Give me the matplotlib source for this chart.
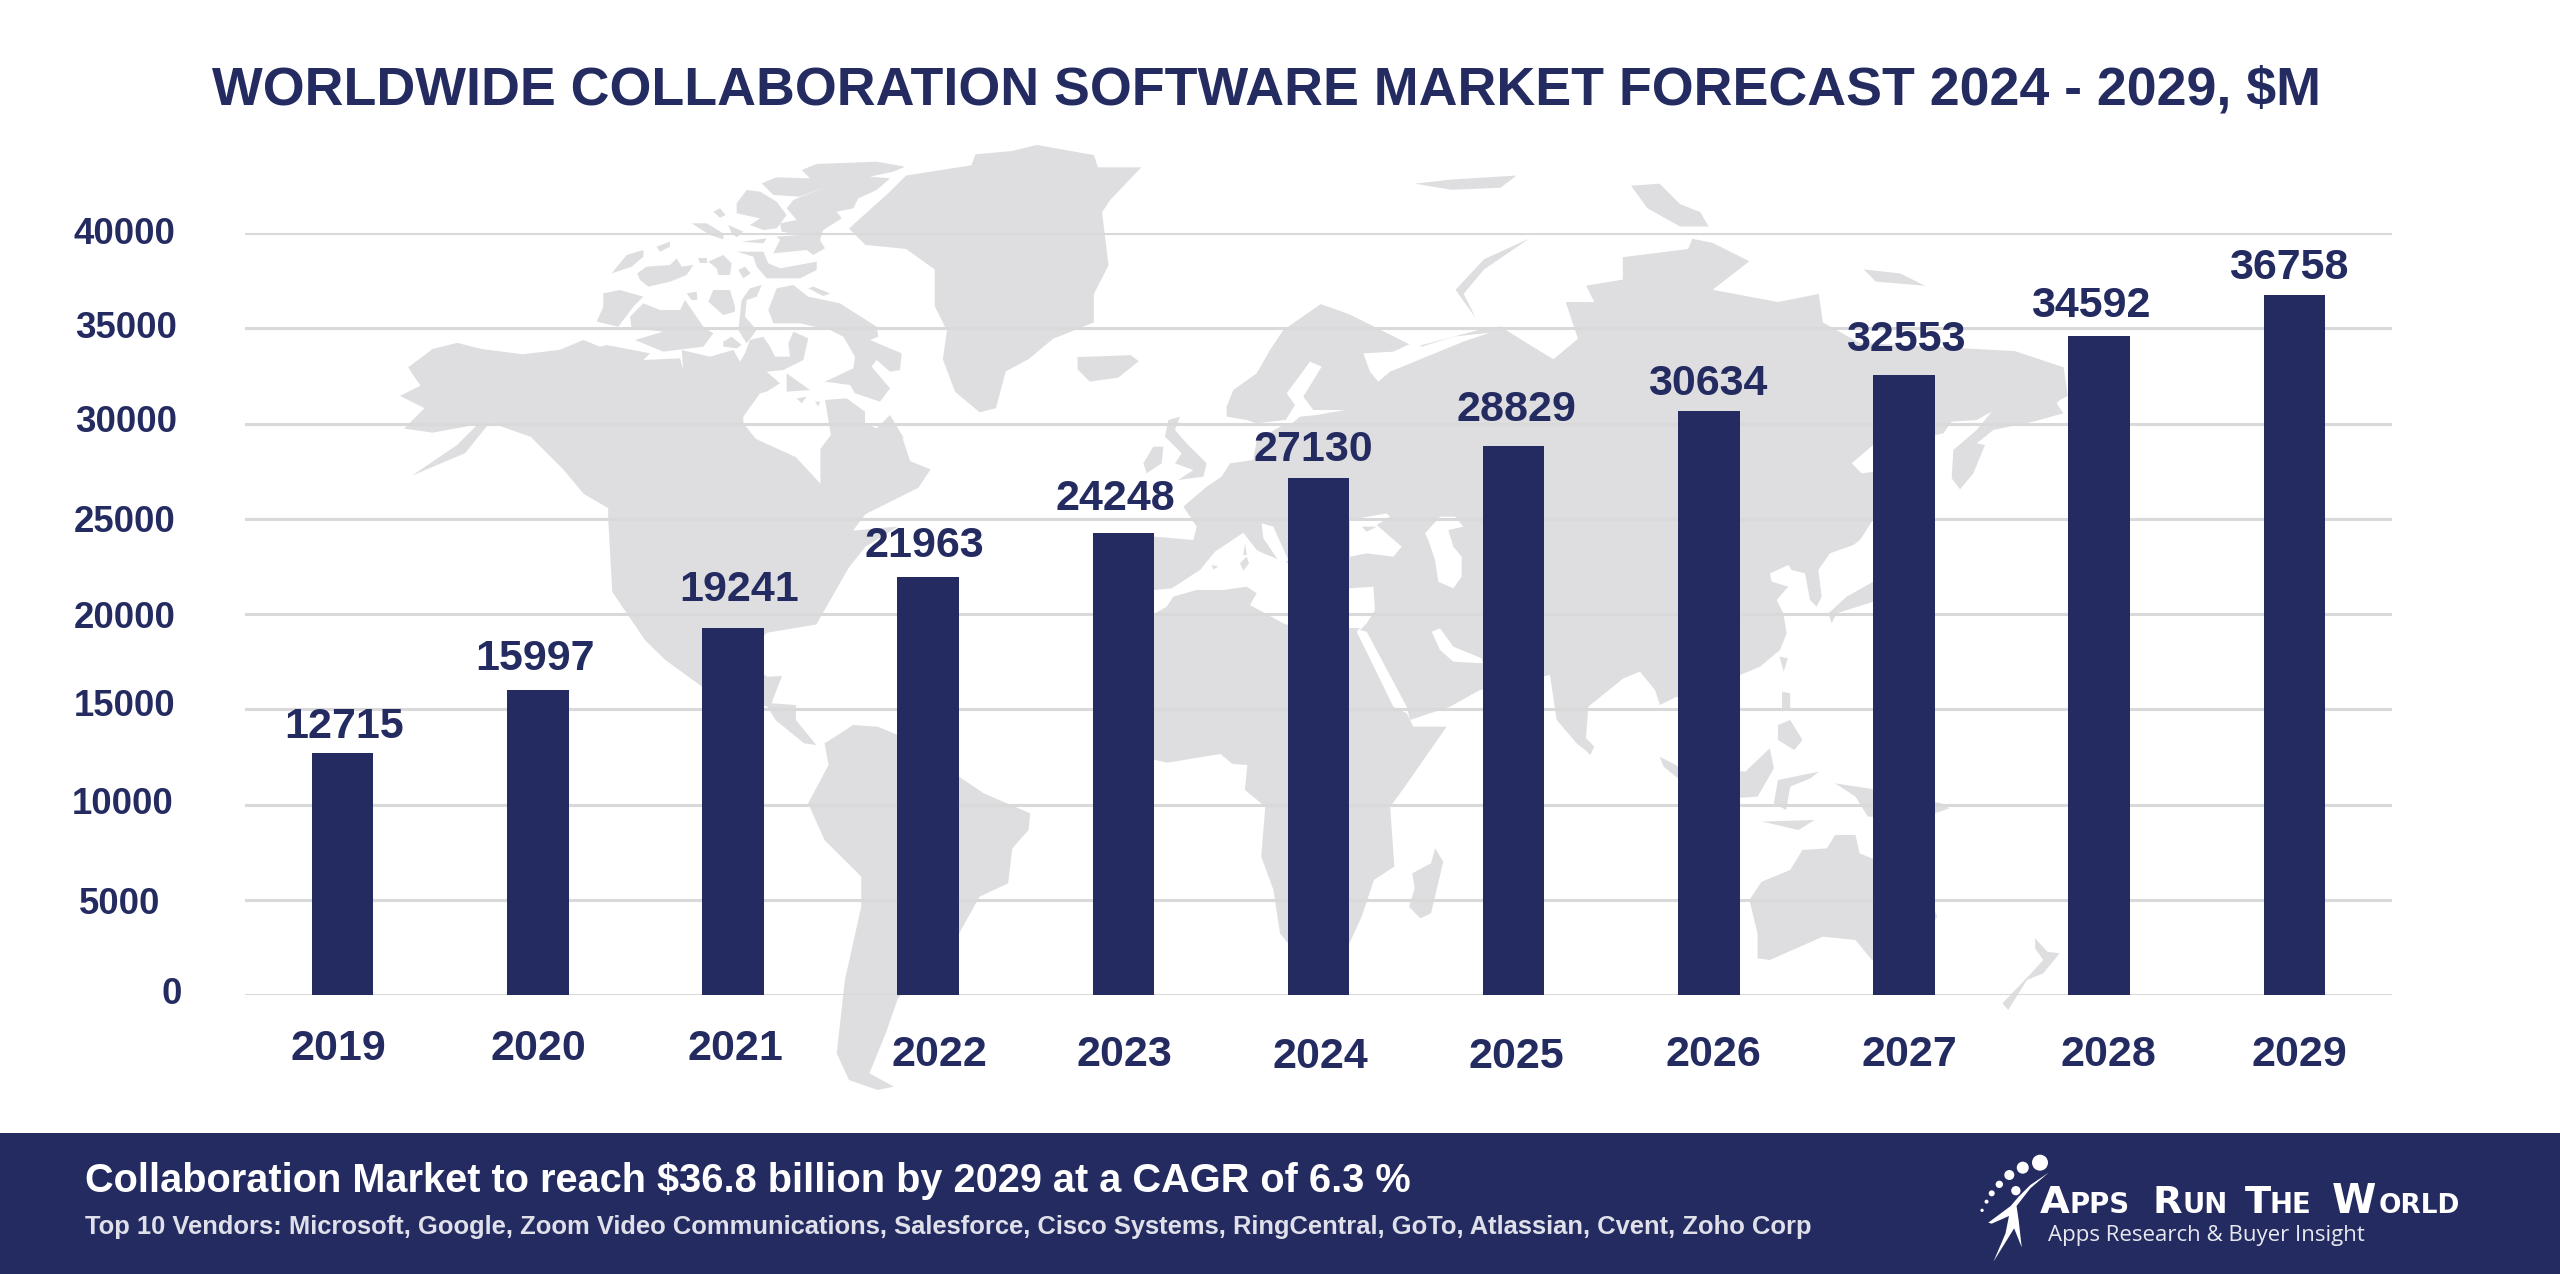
import matplotlib
matplotlib.use("Agg")
import matplotlib.pyplot as plt
from matplotlib.patches import Polygon, Circle, Rectangle
from matplotlib.transforms import ScaledTranslation

years = [2019, 2020, 2021, 2022, 2023, 2024, 2025, 2026, 2027, 2028, 2029]
revenue = [12715, 15997, 19241, 21963, 24248, 27130, 28829, 30634, 32553, 34592, 36758]
y_ticks = [0, 5000, 10000, 15000, 20000, 25000, 30000, 35000, 40000]
title = "WORLDWIDE COLLABORATION SOFTWARE MARKET FORECAST 2024 - 2029, $M"
headline = "Collaboration Market to reach $36.8 billion by 2029 at a CAGR of 6.3 %"
vendors = ("Top 10 Vendors: Microsoft, Google, Zoom Video Communications, Salesforce, "
           "Cisco Systems, RingCentral, GoTo, Atlassian, Cvent, Zoho Corp")

NAVY = "#242B60"
LAND = "#DEDDE0"
GRID = "#D9D9D9"
W, H = 2560, 1274
DPI = 100
FONT = "Liberation Sans"

plt.rcParams["font.family"] = [FONT, "DejaVu Sans"]
fig = plt.figure(figsize=(W / DPI, H / DPI), dpi=DPI, facecolor="white")

# --- page layer in pixel coordinates: background map, footer band, logo
bg = fig.add_axes([0, 0, 1, 1], zorder=0)
bg.set_xlim(0, W)
bg.set_ylim(H, 0)
bg.axis("off")


def a(p):
    return [(x / 1.225, y / 2.45) for x, y in p]


def b(p):
    return [(x / 1.225, 640 + y / 3) for x, y in p]


def c(p):
    return [(1280 + x / 1.225, 640 + y / 3) for x, y in p]


def d(p):
    return [(1280 + x / 1.225, y / 2.45) for x, y in p]


def e(p):
    return [(1100 + x / 3, 330 + y / 3) for x, y in p]


def f(p):
    return [(1560 + x / 3, 330 + y / 3) for x, y in p]


def g(p):
    return [(560 + x / 3, 140 + y / 3) for x, y in p]


land_shapes = [
    # North and Central America
    a([(500, 900), (530, 855), (560, 840), (590, 855), (640, 868), (686, 857)])
    + g([(70, 600), (120, 620), (140, 615), (270, 640), (250, 660), (360, 655), (370, 690), (365, 630), (450, 650),
         (520, 630), (540, 665), (555, 640), (570, 600), (610, 590), (630, 620), (645, 650), (690, 650), (685, 610),
         (700, 575), (745, 595), (730, 660), (670, 690), (620, 695), (660, 730), (620, 755), (600, 760), (550, 830),
         (550, 850), (590, 900)])
    + a([(920, 1070), (975, 1120), (1005, 1185), (1005, 1100), (1020, 1060)])
    + g([(815, 900), (795, 780), (860, 775), (915, 815), (915, 850), (950, 865), (990, 825), (1035, 900)])
    + a([(1105, 1070), (1115, 1130), (1140, 1150), (1125, 1195), (1060, 1260), (1045, 1300), (1100, 1290), (1060, 1340),
         (1040, 1390), (1020, 1460), (1000, 1530), (940, 1550)])
    + b([(900, 50), (940, 110), (958, 108), (945, 190), (975, 195), (975, 240), (1000, 315), (985, 310), (950, 240),
         (940, 200), (860, 140), (815, 60), (790, 0)])
    + a([(750, 1450), (745, 1270), (745, 1245), (715, 1210), (690, 1150), (650, 1070), (600, 1035), (570, 1110),
         (505, 1165), (560, 1090), (585, 1040), (530, 1060), (495, 1050), (520, 1000), (490, 970), (515, 945)]),
    # Greenland
    a([(1040, 560), (1090, 470), (1110, 430), (1190, 405), (1195, 378), (1240, 370), (1270, 355), (1340, 380),
       (1345, 410), (1398, 410), (1360, 490), (1350, 520), (1358, 650), (1340, 720), (1340, 790), (1290, 830),
       (1260, 880), (1232, 910), (1220, 1000), (1200, 1010), (1170, 960), (1155, 880), (1160, 810), (1145, 750),
       (1145, 660), (1110, 610), (1060, 600)]),
    # Canadian Arctic
    g([(725, 90), (770, 72), (950, 65), (1035, 80), (1000, 95), (930, 110), (990, 115), (950, 150), (895, 175),
       (880, 205), (830, 215), (845, 235), (790, 270), (780, 300), (795, 325), (760, 345), (740, 330), (640, 340),
       (660, 300), (650, 290), (720, 285), (665, 275), (660, 250), (710, 240), (680, 205), (700, 180), (800, 140),
       (720, 170), (640, 165), (605, 130), (650, 112), (750, 115)]),
    g([(530, 190), (560, 150), (600, 155), (650, 185), (680, 225), (650, 265), (610, 270), (570, 255), (600, 235),
       (530, 220)]),
    g([(460, 215), (480, 205), (497, 225), (480, 233)]),
    g([(395, 250), (440, 250), (490, 280), (490, 298), (450, 285)]),
    g([(505, 255), (550, 275), (530, 292), (515, 280)]),
    g([(545, 305), (620, 295), (610, 310)]),
    g([(530, 335), (610, 335), (625, 370), (660, 385), (770, 365), (770, 390), (720, 415), (620, 415), (590, 380),
       (580, 350)]),
    g([(155, 400), (200, 345), (250, 330), (250, 350), (215, 380)]),
    g([(232, 400), (260, 380), (330, 375), (350, 355), (365, 380), (400, 375), (380, 405), (330, 425), (265, 440),
       (240, 420)]),
    g([(290, 320), (330, 305), (330, 320), (300, 335)]),
    g([(415, 355), (440, 355), (440, 370), (420, 370)]),
    g([(445, 365), (490, 345), (515, 370), (510, 405), (475, 405), (470, 385)]),
    g([(535, 390), (555, 380), (572, 400), (550, 415)]),
    g([(380, 460), (410, 455), (412, 480), (395, 480)]),
    g([(445, 485), (460, 450), (510, 450), (525, 500), (525, 515), (490, 525)]),
    g([(545, 480), (570, 445), (605, 435), (590, 470), (560, 480), (555, 530), (590, 570), (560, 610), (535, 570)]),
    g([(130, 460), (180, 450), (250, 470), (220, 500), (175, 560), (110, 545), (130, 500)]),
    g([(210, 530), (250, 490), (300, 510), (360, 510), (375, 480), (430, 560), (460, 580), (430, 620), (310, 635),
       (225, 600), (310, 575), (215, 565)]),
    g([(625, 510), (650, 445), (700, 435), (745, 470), (840, 490), (950, 560), (955, 590), (930, 600), (1025, 640),
       (1020, 690), (990, 695), (950, 660), (935, 680), (990, 745), (960, 785), (885, 760), (870, 735), (795, 725),
       (880, 685), (885, 650), (850, 590), (810, 570), (720, 550), (640, 550)]),
    g([(745, 445), (760, 440), (810, 460), (790, 468)]),
    g([(490, 605), (515, 590), (545, 615), (530, 625), (490, 620)]),
    g([(680, 700), (750, 750), (680, 755)]),
    g([(710, 775), (740, 770), (725, 790)]),
    g([(765, 785), (780, 785), (775, 800)]),
    # Iceland, Britain, Ireland
    a([(1320, 875), (1385, 870), (1395, 885), (1370, 925), (1335, 935), (1320, 905)]),
    e([(195, 320), (205, 270), (240, 260), (225, 300), (260, 340), (320, 400), (310, 440), (235, 450), (280, 420),
       (225, 400), (245, 370)]),
    e([(130, 400), (160, 350), (190, 350), (185, 400), (140, 430)]),
    # Eurasia
    d([(50, 745), (85, 770), (135, 820), (165, 850), (250, 805), (270, 800), (310, 850), (335, 880), (365, 830),
       (350, 740), (385, 740), (375, 700), (420, 685), (420, 630), (500, 610), (505, 585), (530, 595), (575, 640),
       (530, 710), (610, 740), (660, 720), (665, 790), (710, 840), (900, 860), (960, 900), (965, 970)])
    + f([(1500, 210), (1490, 220), (1510, 250), (1420, 275), (1300, 300), (1250, 340), (1275, 345), (1240, 430),
         (1200, 478), (1175, 445), (1180, 360), (1250, 300), (1295, 245), (1250, 270), (1175, 275), (1150, 310),
         (1128, 315), (945, 340), (875, 400), (905, 430), (945, 425), (945, 560), (900, 630), (880, 645), (810, 670),
         (775, 720), (785, 800), (770, 830), (750, 810), (735, 730), (695, 720), (685, 705), (630, 730), (635, 755),
         (685, 770), (650, 810), (670, 850), (680, 910), (660, 960), (600, 1010), (540, 1035), (400, 1150), (350, 1100),
         (300, 1125), (285, 1080), (240, 1025), (190, 1045), (85, 1130), (75, 1260)])
    + e([(1430, 1240), (1370, 1170), (1350, 1035), (1140, 1080), (1050, 1130), (930, 1170), (920, 1130), (800, 905),
         (780, 900), (800, 880), (825, 840), (820, 770), (750, 775), (565, 700), (490, 670), (470, 660), (430, 608),
         (345, 665), (300, 720), (215, 775), (165, 780), (100, 770), (100, 620), (165, 620), (280, 630), (290, 590),
         (250, 530), (320, 470), (365, 440), (390, 400), (460, 390), (470, 330), (555, 282), (570, 280), (555, 270),
         (470, 280), (440, 270), (380, 260), (380, 230), (400, 180), (470, 130), (510, 60), (550, 0)]),
    # Africa
    e([(165, 850), (200, 830), (220, 800), (290, 780), (370, 780), (440, 770), (470, 790), (450, 825), (550, 880),
       (565, 885), (780, 895), (770, 905), (880, 1130), (920, 1150), (940, 1190), (1040, 1190)])
    + c([(150, 450), (135, 500), (140, 680), (115, 720), (100, 830), (85, 910), (40, 1000)])
    + b([(1568, 880), (1560, 750), (1545, 650), (1550, 500), (1525, 450), (1528, 375), (1510, 372), (1495, 342),
         (1430, 368), (1415, 360), (1340, 250), (1340, 50)]),
    # Madagascar
    c([(190, 625), (200, 665), (185, 820), (172, 835), (158, 800), (165, 745), (162, 700), (185, 670)]),
    # South America
    b([(1020, 295), (1045, 255), (1075, 260), (1100, 285), (1175, 410), (1205, 460), (1262, 520), (1260, 570),
       (1240, 625), (1235, 730), (1200, 770), (1175, 880), (1100, 1075), (1085, 1180), (1065, 1300), (1095, 1340),
       (1075, 1350), (1040, 1320), (1025, 1240), (1035, 1020), (1055, 800), (1055, 710), (1010, 600), (990, 490),
       (1015, 375), (1010, 310)]),
    # Australia, New Zealand
    c([(575, 780), (590, 725), (625, 690), (640, 630), (670, 625), (680, 585), (705, 585), (710, 640), (730, 660),
       (790, 740), (805, 830), (790, 890), (760, 960), (725, 960), (705, 900), (665, 890), (600, 960), (585, 955),
       (585, 880)]),
    c([(925, 895), (940, 935), (955, 940), (935, 1000), (915, 1020), (892, 1110), (885, 1090), (920, 1000), (935, 960),
       (925, 925)]),
    # South-East Asia and Japan
    c([(570, 395), (600, 325), (605, 385), (585, 470), (520, 480), (520, 380)]),
    c([(465, 350), (485, 375), (510, 430), (490, 420), (470, 380)]),
    c([(610, 255), (625, 240), (640, 300), (630, 330), (610, 300)]),
    c([(615, 155), (625, 160), (625, 205), (615, 215)]),
    c([(612, 50), (622, 55), (617, 95)]),
    c([(610, 420), (660, 395), (650, 415), (625, 440), (620, 510), (605, 490)]),
    c([(680, 430), (720, 445), (810, 490), (820, 505), (790, 530), (720, 530), (705, 470)]),
    c([(590, 545), (655, 540), (635, 570), (600, 550)]),
    c([(375, 295), (385, 320), (380, 345), (372, 325)]),
    f([(805, 850), (860, 800), (940, 755), (1000, 720), (1000, 790), (940, 815), (830, 850), (815, 880)]),
    # Russian Arctic
    d([(305, 585), (250, 635), (215, 710), (240, 780), (225, 720), (250, 660)]),
    d([(430, 455), (465, 450), (490, 500), (515, 520), (525, 555), (490, 555), (450, 510)]),
    d([(165, 450), (210, 440), (290, 430), (270, 460), (210, 465)]),
    d([(715, 660), (760, 670), (790, 700), (730, 690)]),
]
water_shapes = [
    e([(975, 610), (1020, 560), (1065, 560), (1090, 590), (1045, 600), (1060, 650), (1085, 680), (1085, 740),
       (1060, 775), (1015, 755), (1005, 690), (985, 630)]),  # Caspian
    e([(750, 570), (860, 550), (870, 560), (830, 585), (905, 650), (880, 680), (800, 670), (750, 680)]),  # Black Sea
    e([(995, 905), (1020, 895), (1060, 950), (1145, 985), (1148, 1000), (1060, 995), (1020, 960)]),  # Persian Gulf
    e([(630, 95), (665, 110), (610, 200), (640, 240), (735, 240), (650, 255), (600, 260), (570, 285), (550, 282),
       (585, 225), (560, 190)]),  # Baltic
    e([(485, 580), (520, 590), (565, 690), (545, 705), (490, 625)]),  # Adriatic
    e([(790, 70), (880, 65), (945, 35), (965, 50), (1060, 20), (1170, 8), (1090, 35), (870, 125), (835, 155),
       (810, 125)]),  # White Sea
    d([(340, 710), (325, 760), (318, 860), (335, 870), (345, 770)]),  # Gulf of Ob
]
islands = [
    e([(335, 705), (355, 710), (340, 718)]),
    e([(420, 700), (440, 680), (447, 700), (430, 722)]),
    e([(435, 640), (440, 675), (430, 675)]),
    e([(785, 590), (830, 590), (800, 605)]),
]
for s in land_shapes:
    bg.add_patch(Polygon(s, closed=True, fc=LAND, ec="none", zorder=1))
for s in water_shapes:
    bg.add_patch(Polygon(s, closed=True, fc="white", ec="none", zorder=2))
for s in islands:
    bg.add_patch(Polygon(s, closed=True, fc=LAND, ec="none", zorder=2.5))

# footer band
bg.add_patch(Rectangle((0, 1133), W, H - 1133, fc=NAVY, ec="none", zorder=3))
bg.text(85, 1181, headline, color="white", fontsize=28.6, fontweight="bold", va="center", ha="left",
        family=FONT, zorder=4)
bg.text(85, 1227, vendors, color="#DFE0EA", fontsize=18.4, fontweight="bold", va="center", ha="left",
        family=FONT, zorder=4)


# logo
def lx(v):
    return 1940 + v / 2.9


def ly(v):
    return 1130 + v / 3


for px, py, r in [(290, 98, 24), (240, 113, 18), (201, 135, 15), (172, 163, 11), (150, 190, 9), (135, 215, 6),
                  (122, 241, 5), (220, 182, 14)]:
    bg.add_patch(Circle((lx(px), ly(py)), r / 3, fc="white", ec="none", zorder=4))
runner = [(315, 128), (262, 165), (228, 200), (205, 228), (140, 278), (150, 281), (200, 258), (190, 310), (155, 395),
          (215, 295), (237, 352), (228, 270), (222, 228), (262, 175)]
bg.add_patch(Polygon([(lx(x), ly(y)) for x, y in runner], closed=True, fc="white", ec="none", zorder=4))
for txt, left, size in [("A", 290, 27.7), ("PPS", 375, 19.8), ("R", 615, 27.7), ("UN", 703, 19.8), ("T", 885, 27.7),
                        ("HE", 955, 19.8), ("W", 1135, 29), ("ORLD", 1272, 19.0)]:
    bg.text(lx(left), ly(250), txt, color="white", fontsize=size, fontweight="bold", va="baseline", ha="left",
            family="DejaVu Sans", zorder=4)
bg.text(lx(312), 1235, "Apps Research & Buyer Insight", color="#E8E9F0", fontsize=16, va="center", ha="left",
        family="Open Sans", zorder=4)

# --- chart layer
x0, x1, y0, y1 = 245, 2392, 995, 233
ax = fig.add_axes([x0 / W, 1 - y0 / H, (x1 - x0) / W, (y0 - y1) / H], zorder=1)
ax.patch.set_alpha(0)
positions = list(range(len(years)))
ax.set_xlim(-0.5, len(years) - 0.5)
ax.set_ylim(0, 40000)
ax.set_axisbelow(True)
ax.yaxis.grid(True, color=GRID, linewidth=2.2)
ax.xaxis.grid(False)
for sp in ax.spines.values():
    sp.set_visible(False)
ax.tick_params(length=0, pad=0)
ax.bar(positions, revenue, width=0.315, color=NAVY, zorder=3)

# the labels in the source sit slightly off their nominal spots
label_dx = [1.5, -3, 6, -3.6, -8, -5, 3, -1, 2, -8, -6]
label_dy = [30, 36, 43, 35, 39, 33, 40, 32, 39, 35, 31]
for p, v, dx, dy in zip(positions, revenue, label_dx, label_dy):
    ax.annotate(str(v), xy=(p, v), xytext=(dx * 0.72, dy * 0.72), textcoords="offset points", ha="center",
                va="center_baseline", color=NAVY, fontsize=31, fontweight="bold", zorder=4)

xtick_dx = [-4, 1, 2, 11, 1, 2, 3, 5, 5, 9, 5]
xtick_cy = [1044, 1045, 1045, 1051, 1051, 1052, 1052, 1051, 1051, 1051, 1051]
ax.set_xticks(positions, labels=[str(y) for y in years])
for lab, dx, cy in zip(ax.get_xticklabels(), xtick_dx, xtick_cy):
    lab.set(color=NAVY, fontsize=31, fontweight="bold", va="center_baseline", ha="center")
    lab.set_transform(lab.get_transform() + ScaledTranslation(dx / DPI, -(cy - y0) / DPI, fig.dpi_scale_trans))

ytick_cx = [172, 120, 122.4, 125, 124.5, 124.5, 126.5, 126, 124.5]
ytick_cy = [991, 901, 800, 703, 615, 518, 419, 325, 231]
ax.set_yticks(y_ticks, labels=[str(t) for t in y_ticks])
for lab, t, cx, cy in zip(ax.get_yticklabels(), y_ticks, ytick_cx, ytick_cy):
    nominal = y0 + (y1 - y0) * t / 40000
    lab.set(color=NAVY, fontsize=26.4, fontweight="bold", va="center_baseline", ha="center")
    lab.set_transform(lab.get_transform() + ScaledTranslation((cx - x0) / DPI, -(cy - nominal) / DPI,
                                                              fig.dpi_scale_trans))

fig.text(1267 / W, 1 - 85 / H, title, color=NAVY, fontsize=38.7, fontweight="bold", ha="center",
         va="center_baseline", family=FONT, zorder=5)

fig.savefig("out.png", dpi=DPI)
